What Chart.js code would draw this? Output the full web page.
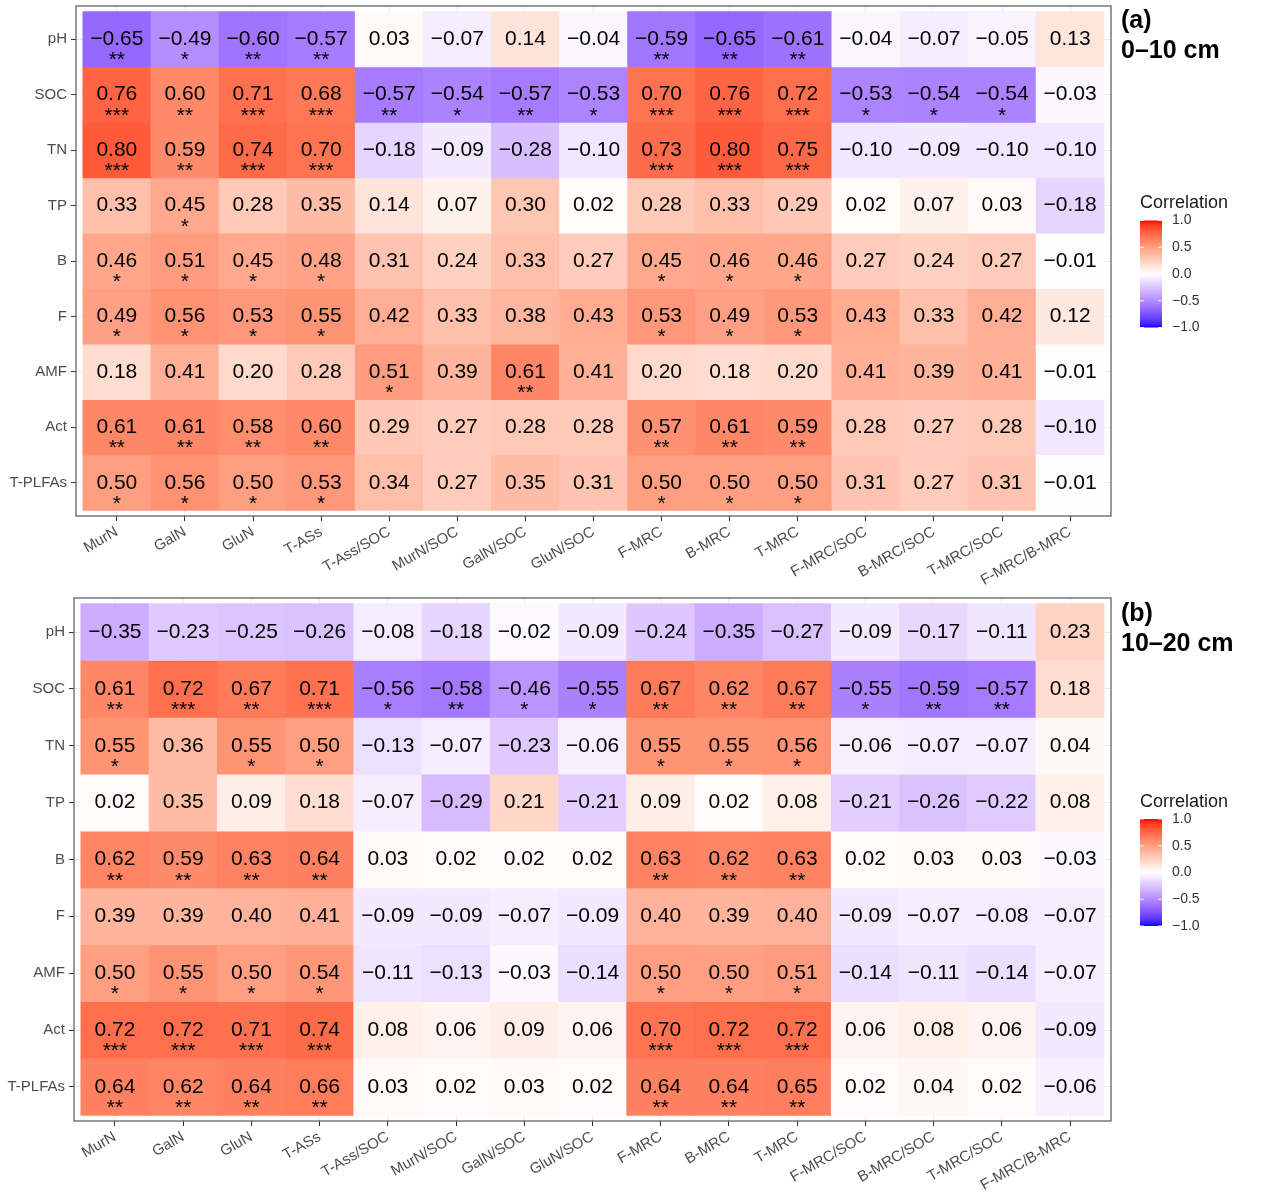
<!DOCTYPE html>
<html>
<head>
<meta charset="utf-8">
<script src="https://cdn.jsdelivr.net/npm/chart.js@4.4.1/dist/chart.umd.min.js"></script>
<style>
  html, body { margin: 0; padding: 0; background: #fff; }
  .panel { position: absolute; left: 0; width: 1267px; }
  canvas { display: block; }
</style>
</head>
<body>
<div class="panel" style="top:0;height:593px"><canvas id="chartA" width="1267" height="593"></canvas></div>
<div class="panel" style="top:593px;height:602px"><canvas id="chartB" width="1267" height="602"></canvas></div>
<script>
// Spearman-type correlation heatmaps, two soil depths

const rowNames = ['pH', 'SOC', 'TN', 'TP', 'B', 'F', 'AMF', 'Act', 'T-PLFAs'];
const colNames = ['MurN', 'GalN', 'GluN', 'T-ASs', 'T-Ass/SOC', 'MurN/SOC', 'GalN/SOC', 'GluN/SOC',
  'F-MRC', 'B-MRC', 'T-MRC', 'F-MRC/SOC', 'B-MRC/SOC', 'T-MRC/SOC', 'F-MRC/B-MRC'];

// (a) 0-10 cm
const corrA = [
  [-0.65, -0.49, -0.60, -0.57, 0.03, -0.07, 0.14, -0.04, -0.59, -0.65, -0.61, -0.04, -0.07, -0.05, 0.13],
  [0.76, 0.60, 0.71, 0.68, -0.57, -0.54, -0.57, -0.53, 0.70, 0.76, 0.72, -0.53, -0.54, -0.54, -0.03],
  [0.80, 0.59, 0.74, 0.70, -0.18, -0.09, -0.28, -0.10, 0.73, 0.80, 0.75, -0.10, -0.09, -0.10, -0.10],
  [0.33, 0.45, 0.28, 0.35, 0.14, 0.07, 0.30, 0.02, 0.28, 0.33, 0.29, 0.02, 0.07, 0.03, -0.18],
  [0.46, 0.51, 0.45, 0.48, 0.31, 0.24, 0.33, 0.27, 0.45, 0.46, 0.46, 0.27, 0.24, 0.27, -0.01],
  [0.49, 0.56, 0.53, 0.55, 0.42, 0.33, 0.38, 0.43, 0.53, 0.49, 0.53, 0.43, 0.33, 0.42, 0.12],
  [0.18, 0.41, 0.20, 0.28, 0.51, 0.39, 0.61, 0.41, 0.20, 0.18, 0.20, 0.41, 0.39, 0.41, -0.01],
  [0.61, 0.61, 0.58, 0.60, 0.29, 0.27, 0.28, 0.28, 0.57, 0.61, 0.59, 0.28, 0.27, 0.28, -0.10],
  [0.50, 0.56, 0.50, 0.53, 0.34, 0.27, 0.35, 0.31, 0.50, 0.50, 0.50, 0.31, 0.27, 0.31, -0.01]
];
const starsA = [
  ['**', '*', '**', '**', '', '', '', '', '**', '**', '**', '', '', '', ''],
  ['***', '**', '***', '***', '**', '*', '**', '*', '***', '***', '***', '*', '*', '*', ''],
  ['***', '**', '***', '***', '', '', '', '', '***', '***', '***', '', '', '', ''],
  ['', '*', '', '', '', '', '', '', '', '', '', '', '', '', ''],
  ['*', '*', '*', '*', '', '', '', '', '*', '*', '*', '', '', '', ''],
  ['*', '*', '*', '*', '', '', '', '', '*', '*', '*', '', '', '', ''],
  ['', '', '', '', '*', '', '**', '', '', '', '', '', '', '', ''],
  ['**', '**', '**', '**', '', '', '', '', '**', '**', '**', '', '', '', ''],
  ['*', '*', '*', '*', '', '', '', '', '*', '*', '*', '', '', '', '']
];

// (b) 10-20 cm
const corrB = [
  [-0.35, -0.23, -0.25, -0.26, -0.08, -0.18, -0.02, -0.09, -0.24, -0.35, -0.27, -0.09, -0.17, -0.11, 0.23],
  [0.61, 0.72, 0.67, 0.71, -0.56, -0.58, -0.46, -0.55, 0.67, 0.62, 0.67, -0.55, -0.59, -0.57, 0.18],
  [0.55, 0.36, 0.55, 0.50, -0.13, -0.07, -0.23, -0.06, 0.55, 0.55, 0.56, -0.06, -0.07, -0.07, 0.04],
  [0.02, 0.35, 0.09, 0.18, -0.07, -0.29, 0.21, -0.21, 0.09, 0.02, 0.08, -0.21, -0.26, -0.22, 0.08],
  [0.62, 0.59, 0.63, 0.64, 0.03, 0.02, 0.02, 0.02, 0.63, 0.62, 0.63, 0.02, 0.03, 0.03, -0.03],
  [0.39, 0.39, 0.40, 0.41, -0.09, -0.09, -0.07, -0.09, 0.40, 0.39, 0.40, -0.09, -0.07, -0.08, -0.07],
  [0.50, 0.55, 0.50, 0.54, -0.11, -0.13, -0.03, -0.14, 0.50, 0.50, 0.51, -0.14, -0.11, -0.14, -0.07],
  [0.72, 0.72, 0.71, 0.74, 0.08, 0.06, 0.09, 0.06, 0.70, 0.72, 0.72, 0.06, 0.08, 0.06, -0.09],
  [0.64, 0.62, 0.64, 0.66, 0.03, 0.02, 0.03, 0.02, 0.64, 0.64, 0.65, 0.02, 0.04, 0.02, -0.06]
];
const starsB = [
  ['', '', '', '', '', '', '', '', '', '', '', '', '', '', ''],
  ['**', '***', '**', '***', '*', '**', '*', '*', '**', '**', '**', '*', '**', '**', ''],
  ['*', '', '*', '*', '', '', '', '', '*', '*', '*', '', '', '', ''],
  ['', '', '', '', '', '', '', '', '', '', '', '', '', '', ''],
  ['**', '**', '**', '**', '', '', '', '', '**', '**', '**', '', '', '', ''],
  ['', '', '', '', '', '', '', '', '', '', '', '', '', '', ''],
  ['*', '*', '*', '*', '', '', '', '', '*', '*', '*', '', '', '', ''],
  ['***', '***', '***', '***', '', '', '', '', '***', '***', '***', '', '', '', ''],
  ['**', '**', '**', '**', '', '', '', '', '**', '**', '**', '', '', '', '']
];

const legendTicks = [1.0, 0.5, 0.0, -0.5, -1.0];

const FONT = '"Liberation Sans", Arial, Helvetica, sans-serif';

// --- colour: white -> red / white -> blue, interpolated in CIELAB like ggplot's gradient2
const WX = 0.95047, WY = 1.0, WZ = 1.08883;
function toLin(c) { c /= 255; return c <= 0.04045 ? c / 12.92 : Math.pow((c + 0.055) / 1.055, 2.4); }
function fromLin(c) {
  const v = c <= 0.0031308 ? 12.92 * c : 1.055 * Math.pow(c, 1 / 2.4) - 0.055;
  return Math.round(Math.max(0, Math.min(1, v)) * 255);
}
function fLab(t) { return t > 0.008856 ? Math.cbrt(t) : 7.787 * t + 16 / 116; }
function fInv(t) { const t3 = t * t * t; return t3 > 0.008856 ? t3 : (t - 16 / 116) / 7.787; }
function rgbToLab(r, g, b) {
  const R = toLin(r), G = toLin(g), B = toLin(b);
  const X = (0.4124 * R + 0.3576 * G + 0.1805 * B) / WX;
  const Y = (0.2126 * R + 0.7152 * G + 0.0722 * B) / WY;
  const Z = (0.0193 * R + 0.1192 * G + 0.9505 * B) / WZ;
  const fx = fLab(X), fy = fLab(Y), fz = fLab(Z);
  return [116 * fy - 16, 500 * (fx - fy), 200 * (fy - fz)];
}
function labToRgb(L, a, b) {
  const fy = (L + 16) / 116, fx = fy + a / 500, fz = fy - b / 200;
  const X = fInv(fx) * WX, Y = fInv(fy) * WY, Z = fInv(fz) * WZ;
  const R = 3.2406 * X - 1.5372 * Y - 0.4986 * Z;
  const G = -0.9689 * X + 1.8758 * Y + 0.0415 * Z;
  const B = 0.0557 * X - 0.2040 * Y + 1.0570 * Z;
  return [fromLin(R), fromLin(G), fromLin(B)];
}
const LAB_WHITE = rgbToLab(255, 255, 255);
const LAB_RED = rgbToLab(255, 0, 0);
const LAB_BLUE = rgbToLab(0, 0, 255);
function corrColor(v) {
  const t = Math.min(1, Math.abs(v));
  const end = v >= 0 ? LAB_RED : LAB_BLUE;
  const lab = LAB_WHITE.map((w, i) => w + (end[i] - w) * t);
  const [r, g, b] = labToRgb(lab[0], lab[1], lab[2]);
  return 'rgb(' + r + ',' + g + ',' + b + ')';
}

function fmt(v, digits) {
  return (v < 0 ? '\u2212' : '') + Math.abs(v).toFixed(digits);
}

// text in cells, panel border, panel title and colour legend
function makeOverlay(values, stars, titleLines) {
  return {
    id: 'overlay',
    afterDatasetsDraw(chart) {
      const { ctx, chartArea: a, scales: { x, y } } = chart;
      ctx.save();

      ctx.fillStyle = '#000';
      ctx.textAlign = 'center';
      values.forEach((row, r) => row.forEach((v, c) => {
        const px = x.getPixelForValue(c);
        const py = y.getPixelForValue(r);
        ctx.font = '21px ' + FONT;
        ctx.textBaseline = 'middle';
        ctx.fillText(fmt(v, 2), px, py);
        if (stars[r][c]) {
          ctx.textBaseline = 'alphabetic';
          ctx.fillText(stars[r][c], px, py + 27);
        }
      }));

      // panel border (theme_bw)
      ctx.strokeStyle = '#555';
      ctx.lineWidth = 1.2;
      ctx.strokeRect(a.left, a.top, a.right - a.left, a.bottom - a.top);

      // title
      ctx.fillStyle = '#000';
      ctx.textAlign = 'left';
      ctx.textBaseline = 'middle';
      ctx.font = 'bold 25px ' + FONT;
      ctx.fillText(titleLines[0], a.right + 10, 21);
      ctx.fillText(titleLines[1], a.right + 10, 51);

      // colourbar
      const mid = (a.top + a.bottom) / 2;
      const barX = 1140, barW = 22, barH = 107;
      const barTop = mid + 13 - barH / 2;
      ctx.font = '18px ' + FONT;
      ctx.fillStyle = '#1a1a1a';
      ctx.fillText('Correlation', barX, barTop - 17);
      const grad = ctx.createLinearGradient(0, barTop, 0, barTop + barH);
      for (let i = 0; i <= 40; i++) grad.addColorStop(i / 40, corrColor(1 - i / 20));
      ctx.fillStyle = grad;
      ctx.fillRect(barX, barTop, barW, barH);
      ctx.font = '14px ' + FONT;
      legendTicks.forEach((t) => {
        const yy = barTop + (1 - t) / 2 * barH;
        ctx.strokeStyle = 'rgba(255,255,255,0.9)';
        ctx.lineWidth = 1;
        ctx.beginPath();
        ctx.moveTo(barX, yy); ctx.lineTo(barX + 4, yy);
        ctx.moveTo(barX + barW - 4, yy); ctx.lineTo(barX + barW, yy);
        ctx.stroke();
        ctx.fillStyle = '#333';
        ctx.fillText(fmt(t, 1), barX + 32, yy);
      });

      ctx.restore();
    }
  };
}

function renderHeatmap(canvasId, values, stars, titleLines, box) {
  const ctx = document.getElementById(canvasId);
  if (!ctx || typeof Chart === 'undefined') return;

  new Chart(ctx, {
    type: 'bar',
    data: {
      datasets: rowNames.map((row, r) => ({
        label: row,
        data: colNames.map((col, c) => ({ x: c, y: [r - 0.5, r + 0.5] })),
        backgroundColor: values[r].map(corrColor),
        borderWidth: 0,
        grouped: false,
        barPercentage: 1,
        categoryPercentage: 1,
      })),
    },
    options: {
      responsive: false,
      animation: false,
      events: [],
      layout: { padding: { top: box.top, right: 156, left: 0, bottom: 0 } },
      plugins: {
        legend: { display: false },
        tooltip: { enabled: false },
      },
      scales: {
        x: {
          type: 'linear',
          offset: false,
          min: -0.6,
          max: colNames.length - 0.4,
          bounds: 'data',
          afterBuildTicks: (s) => { s.ticks = colNames.map((_, i) => ({ value: i })); },
          afterFit: (s) => {
            s.height = box.xHeight;
            s.paddingLeft = 0;
            s.paddingRight = 0;
          },
          ticks: {
            autoSkip: false,
            minRotation: 30,
            maxRotation: 30,
            padding: 2,
            color: '#4d4d4d',
            font: { family: FONT, size: 15 },
            callback: (v) => colNames[v],
          },
          grid: { offset: false, color: '#ebebeb', tickColor: '#333', tickLength: 5, lineWidth: 1 },
          border: { display: false },
        },
        y: {
          type: 'linear',
          reverse: true,
          min: -0.6,
          max: rowNames.length - 0.4,
          bounds: 'data',
          afterBuildTicks: (s) => { s.ticks = rowNames.map((_, i) => ({ value: i })); },
          afterFit: (s) => {
            s.width = box.yWidth;
            s.paddingTop = 0;
            s.paddingBottom = 0;
          },
          ticks: {
            autoSkip: false,
            padding: 4,
            color: '#4d4d4d',
            font: { family: FONT, size: 15 },
            callback: (v) => rowNames[v],
          },
          grid: { color: '#ebebeb', tickColor: '#333', tickLength: 5, lineWidth: 1 },
          border: { display: false },
        },
      },
    },
    plugins: [makeOverlay(values, stars, titleLines)],
  });
}

renderHeatmap('chartA', corrA, starsA, ['(a)', '0\u201310 cm'], { top: 6, xHeight: 77, yWidth: 76 });
renderHeatmap('chartB', corrB, starsB, ['(b)', '10\u201320 cm'], { top: 5, xHeight: 74, yWidth: 74 });
</script>
</body>
</html>
